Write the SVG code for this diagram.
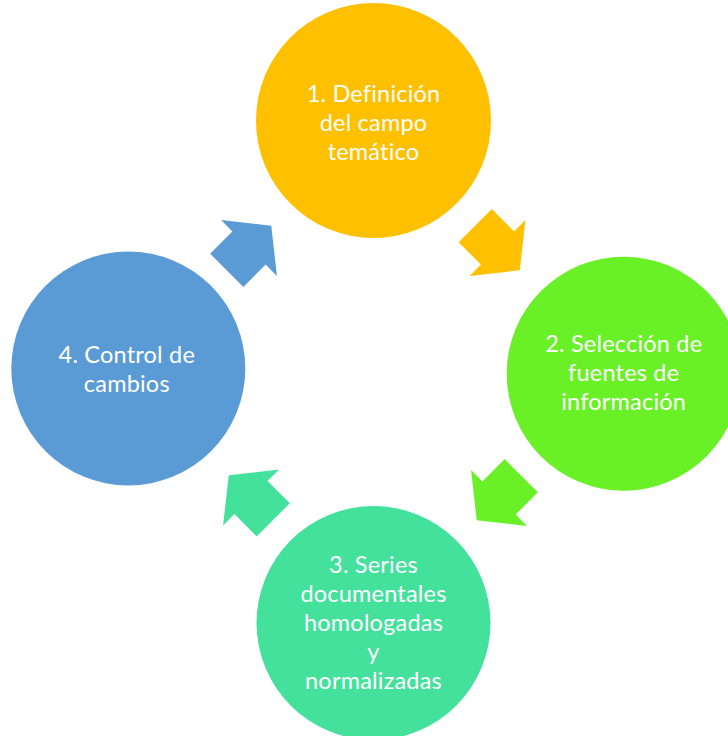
<svg xmlns="http://www.w3.org/2000/svg" width="728" height="736" viewBox="0 0 728 736">
  <defs>
    <style>
      .label { font-family: Lato, "Open Sans", "DejaVu Sans", sans-serif; font-size: 23.5px; letter-spacing: 0.2px; font-variant-ligatures: none; fill: #ffffff; text-anchor: middle; }
    </style>
    <!-- block arrow pointing along +x, centred on the origin -->
    <path id="cycle-arrow" d="M-31.5,-23.5 L0,-23.5 L0,-39.5 L31.5,0 L0,39.5 L0,23.5 L-31.5,23.5 Z"/>
  </defs>
  <rect width="728" height="736" fill="#ffffff"/>

  <g id="connectors">
    <use href="#cycle-arrow" fill="#FFC000" transform="translate(497.5,248) rotate(45)"/>
    <use href="#cycle-arrow" fill="#6AF026" transform="translate(499,498) rotate(135)"/>
    <use href="#cycle-arrow" fill="#44E19D" transform="translate(251,497.5) rotate(225)"/>
    <use href="#cycle-arrow" fill="#5B9BD5" transform="translate(249,248) rotate(-45)"/>
  </g>

  <g id="step1">
    <circle cx="373.5" cy="120.5" r="117.5" fill="#FFC000"/>
    <text class="label" x="373.5" y="101.7">1. Definición</text>
    <text class="label" x="373.5" y="131">del campo</text>
    <text class="label" x="373.5" y="160">temático</text>
  </g>

  <g id="step2">
    <circle cx="623.7" cy="373.7" r="117" fill="#6AF026"/>
    <text class="label" x="623.7" y="351.7">2. Selección de</text>
    <text class="label" x="623.7" y="381">fuentes de</text>
    <text class="label" x="623.7" y="410">información</text>
  </g>

  <g id="step3">
    <circle cx="373.5" cy="623" r="117" fill="#44E19D"/>
    <text class="label" x="373.5" y="573.3">3. Series</text>
    <text class="label" x="373.5" y="601.7">documentales</text>
    <text class="label" x="373.5" y="631">homologadas</text>
    <text class="label" x="373.5" y="660">y</text>
    <text class="label" x="373.5" y="689.3">normalizadas</text>
  </g>

  <g id="step4">
    <circle cx="128.3" cy="368.5" r="117" fill="#5B9BD5"/>
    <text class="label" x="126.8" y="363.3">4. Control de</text>
    <text class="label" x="126.8" y="391.7">cambios</text>
  </g>
</svg>
